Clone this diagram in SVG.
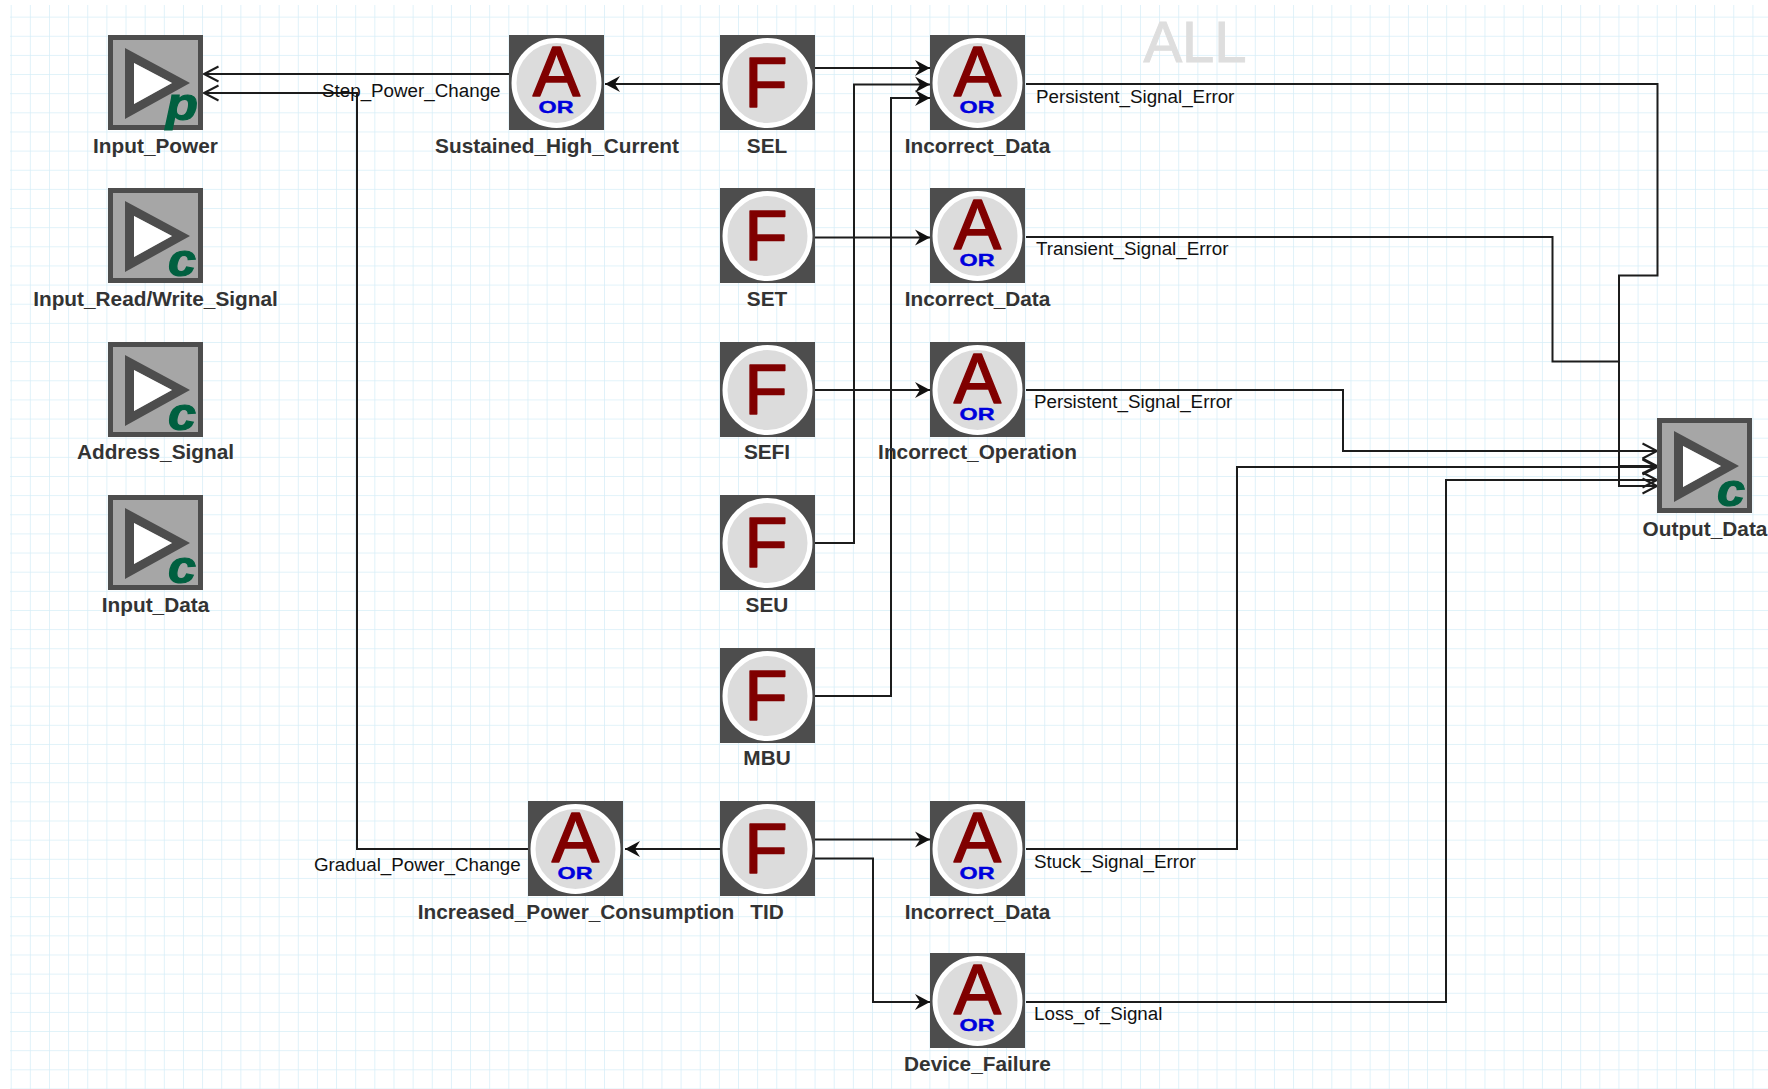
<svg xmlns="http://www.w3.org/2000/svg" width="1768" height="1089" viewBox="0 0 1768 1089">
<style>
text{font-family:"Liberation Sans",Arial,sans-serif}
.lbl{font-size:20.800px;font-weight:700;fill:#333;text-anchor:middle}
.edge{font-size:18.800px;fill:#111}
.box{fill:#4d4d4d}
.ring{fill:#dcdcdc;stroke:#fff;stroke-width:5}
.bigA,.bigF{font-size:71px;fill:#800000;stroke:#800000;stroke-width:1.500;stroke-linejoin:round;text-anchor:middle}
.or{font-size:17px;font-weight:700;fill:#0000dd;stroke:#0000dd;stroke-width:.4;text-anchor:middle}
.kind{font-size:46px;font-weight:700;font-style:italic;fill:#006040;stroke:#006040;stroke-width:1.200}
.conn{fill:none;stroke:#1c1c1c;stroke-width:2;marker-end:url(#stealth)}
.conn.open{marker-end:url(#open)}
</style>
<defs>
<pattern id="grid" width="19.140" height="19.140" patternUnits="userSpaceOnUse" patternTransform="translate(10.700 -2.500)">
<path d="M0 0H19.140M0 0V19.140" fill="none" stroke="#d6eef8" stroke-width="1.500"/>
</pattern>
<marker id="open" markerUnits="userSpaceOnUse" markerWidth="18" markerHeight="18" refX="15" refY="9" orient="auto">
<path d="M0.500 1.500L15 9L0.500 16.500" fill="none" stroke="#1c1c1c" stroke-width="2"/>
</marker>
<marker id="stealth" markerUnits="userSpaceOnUse" markerWidth="18" markerHeight="18" refX="15" refY="9" orient="auto">
<path d="M0 1L15 9L0 17L5 9Z" fill="#111"/>
</marker>
<g id="input">
<rect class="box" width="95" height="95"/>
<rect x="5" y="5" width="85" height="85" fill="#a6a6a6"/>
<path d="M17 13L82 48L17 84ZM26 28V69L64 48Z" fill="#4d4d4d" fill-rule="evenodd"/>
<path d="M26 28V69L64 48Z" fill="#fff"/>
</g>
<g id="icon">
<rect class="box" width="95" height="95"/>
<circle class="ring" cx="47.500" cy="48" r="42.500"/>
</g>
</defs>
<rect width="1768" height="1089" fill="#fff"/>
<rect x="10" y="5" width="1758" height="1084" fill="url(#grid)"/>
<text x="1195" y="62" font-size="58" fill="#dedede" stroke="#dedede" text-anchor="middle">ALL</text>

<g id="connectors">
<path class="conn open" d="M509 74H204"/>
<path class="conn open" d="M528 849H357V93H204"/>
<path class="conn" d="M720 84H605"/>
<path class="conn" d="M815 68H930"/>
<path class="conn" d="M815 543H854V84.500H930"/>
<path class="conn" d="M815 696H891V98H930"/>
<path class="conn" d="M815 237.500H930"/>
<path class="conn" d="M815 390H930"/>
<path class="conn" d="M720 849H625"/>
<path class="conn" d="M815 839.500H930"/>
<path class="conn" d="M815 858.500H873V1002H930"/>
<path class="conn open" d="M1026 84H1657.500V275.500H1619V486H1657"/>
<path class="conn open" d="M1026 237H1552.500V361.500H1619V466H1657"/>
<path class="conn open" d="M1026 390H1343V451H1657"/>
<path class="conn open" d="M1026 849H1237V467H1657"/>
<path class="conn open" d="M1026 1002H1446V480H1657"/>
<text class="edge" x="322" y="97">Step_Power_Change</text>
<text class="edge" x="1036" y="103">Persistent_Signal_Error</text>
<text class="edge" x="1036" y="255">Transient_Signal_Error</text>
<text class="edge" x="1034" y="408">Persistent_Signal_Error</text>
<text class="edge" x="314" y="871">Gradual_Power_Change</text>
<text class="edge" x="1034" y="868">Stuck_Signal_Error</text>
<text class="edge" x="1034" y="1020">Loss_of_Signal</text>
</g>

<g id="input-power"><use href="#input" x="108" y="35"/><text class="kind" x="166" y="120" textLength="32" lengthAdjust="spacingAndGlyphs">p</text><text class="lbl" x="155.500" y="153">Input_Power</text></g>
<g id="input-rw"><use href="#input" x="108" y="188"/><text class="kind" x="168" y="276" textLength="28" lengthAdjust="spacingAndGlyphs">c</text><text class="lbl" x="155.500" y="306">Input_Read/Write_Signal</text></g>
<g id="address"><use href="#input" x="108" y="342"/><text class="kind" x="168" y="430" textLength="28" lengthAdjust="spacingAndGlyphs">c</text><text class="lbl" x="155.500" y="459">Address_Signal</text></g>
<g id="input-data"><use href="#input" x="108" y="495"/><text class="kind" x="168" y="583" textLength="28" lengthAdjust="spacingAndGlyphs">c</text><text class="lbl" x="155.500" y="612">Input_Data</text></g>
<g id="output-data"><use href="#input" x="1657" y="418"/><text class="kind" x="1717" y="506" textLength="28" lengthAdjust="spacingAndGlyphs">c</text><text class="lbl" x="1705" y="536">Output_Data</text></g>

<g id="sustained"><use href="#icon" x="509" y="35"/><text class="bigA" x="556.500" y="95.500">A</text><text class="or" x="556" y="113" textLength="35" lengthAdjust="spacingAndGlyphs">OR</text><text class="lbl" x="557" y="153">Sustained_High_Current</text></g>
<g id="increased"><use href="#icon" x="528" y="801"/><text class="bigA" x="575.500" y="861.500">A</text><text class="or" x="575" y="879" textLength="35" lengthAdjust="spacingAndGlyphs">OR</text><text class="lbl" x="576" y="919">Increased_Power_Consumption</text></g>

<g id="sel"><use href="#icon" x="720" y="35"/><text class="bigF" x="766" y="107">F</text><text class="lbl" x="767" y="153">SEL</text></g>
<g id="set"><use href="#icon" x="720" y="188"/><text class="bigF" x="766" y="260">F</text><text class="lbl" x="767" y="306">SET</text></g>
<g id="sefi"><use href="#icon" x="720" y="342"/><text class="bigF" x="766" y="414">F</text><text class="lbl" x="767" y="459">SEFI</text></g>
<g id="seu"><use href="#icon" x="720" y="495"/><text class="bigF" x="766" y="567">F</text><text class="lbl" x="767" y="612">SEU</text></g>
<g id="mbu"><use href="#icon" x="720" y="648"/><text class="bigF" x="766" y="720">F</text><text class="lbl" x="767" y="765">MBU</text></g>
<g id="tid"><use href="#icon" x="720" y="801"/><text class="bigF" x="766" y="873">F</text><text class="lbl" x="767" y="919">TID</text></g>

<g id="incorrect-1"><use href="#icon" x="930" y="35"/><text class="bigA" x="977.500" y="95.500">A</text><text class="or" x="977" y="113" textLength="35" lengthAdjust="spacingAndGlyphs">OR</text><text class="lbl" x="977.500" y="153">Incorrect_Data</text></g>
<g id="incorrect-2"><use href="#icon" x="930" y="188"/><text class="bigA" x="977.500" y="248.500">A</text><text class="or" x="977" y="266" textLength="35" lengthAdjust="spacingAndGlyphs">OR</text><text class="lbl" x="977.500" y="306">Incorrect_Data</text></g>
<g id="incorrect-op"><use href="#icon" x="930" y="342"/><text class="bigA" x="977.500" y="402.500">A</text><text class="or" x="977" y="420" textLength="35" lengthAdjust="spacingAndGlyphs">OR</text><text class="lbl" x="977.500" y="459">Incorrect_Operation</text></g>
<g id="incorrect-3"><use href="#icon" x="930" y="801"/><text class="bigA" x="977.500" y="861.500">A</text><text class="or" x="977" y="879" textLength="35" lengthAdjust="spacingAndGlyphs">OR</text><text class="lbl" x="977.500" y="919">Incorrect_Data</text></g>
<g id="device-failure"><use href="#icon" x="930" y="953"/><text class="bigA" x="977.500" y="1013.500">A</text><text class="or" x="977" y="1031" textLength="35" lengthAdjust="spacingAndGlyphs">OR</text><text class="lbl" x="977.500" y="1071">Device_Failure</text></g>
</svg>
